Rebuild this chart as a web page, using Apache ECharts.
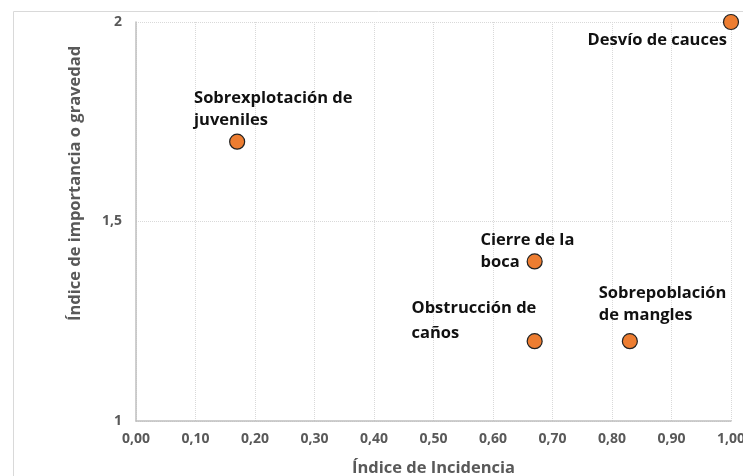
<!DOCTYPE html>
<html>
<head>
<meta charset="utf-8">
<script src="https://cdn.jsdelivr.net/npm/echarts@6/dist/echarts.min.js"></script>
<style>
html, body { margin: 0; padding: 0; background: #fff; }
#chart { width: 743px; height: 476px; }
</style>
</head>
<body>
<div id="chart"></div>
<script>
// datos
var riesgos = ['Sobrexplotación de\njuveniles', 'Desvío de cauces', 'Cierre de la\nboca', 'Obstrucción de\ncaños', 'Sobrepoblación\nde mangles'];
var incidencia = [0.17, 1.00, 0.67, 0.67, 0.83];
var gravedad = [1.7, 2.0, 1.4, 1.2, 1.2];
var xTicks = [0, 1, 0.1];   // min, max, intervalo
var yTicks = [1, 2, 0.5];

// posicion de cada etiqueta junto a su punto
var labelPos = [
    { position: [-35, -2], align: 'left', verticalAlign: 'bottom' },
    { position: [4, 26], align: 'right', verticalAlign: 'middle' },
    { position: [-46, -2], align: 'left', verticalAlign: 'middle' },
    { position: [-115, -12], align: 'left', verticalAlign: 'middle', lineHeight: 25 },
    { position: [-23, -29], align: 'left', verticalAlign: 'middle' }
];

var gris = '#595959';
var fuente = '"Open Sans", "Noto Sans", sans-serif';

var puntos = riesgos.map(function (n, i) {
    return {
        name: n,
        value: [incidencia[i], gravedad[i]],
        label: labelPos[i]
    };
});

var chart = echarts.init(document.getElementById('chart'));
chart.setOption({
    animation: false,
    textStyle: { fontFamily: fuente },
    graphic: [{
        type: 'rect',
        shape: { x: 13.5, y: 11.5, width: 800, height: 600 },
        style: { fill: 'none', stroke: '#d9d9d9', lineWidth: 1 },
        silent: true
    }],
    grid: { left: 136, right: 12, top: 22, bottom: 55, outerBoundsMode: 'none', containLabel: false },
    xAxis: {
        type: 'value',
        min: xTicks[0],
        max: xTicks[1],
        interval: xTicks[2],
        name: 'Índice de Incidencia',
        nameLocation: 'middle',
        nameGap: 39,
        nameTextStyle: { color: gris, fontSize: 16.5, fontWeight: 'bold', fontFamily: fuente },
        axisLine: { lineStyle: { color: '#bfbfbf', width: 1.5 } },
        axisTick: { show: false },
        axisLabel: {
            color: gris, fontSize: 14, fontWeight: 'bold', margin: 11,
            formatter: function (v) { return v.toFixed(2).replace('.', ','); }
        },
        splitLine: { show: true, lineStyle: { color: '#d9d9d9', type: 'dotted' } }
    },
    yAxis: {
        type: 'value',
        min: yTicks[0],
        max: yTicks[1],
        interval: yTicks[2],
        name: 'Índice de importancia o gravedad',
        nameLocation: 'middle',
        nameGap: 52,
        nameTextStyle: { color: gris, fontSize: 16.5, fontWeight: 'bold', fontFamily: fuente, padding: [0, 0, 0, 76] },
        axisLine: { show: true, lineStyle: { color: '#bfbfbf', width: 1.5 } },
        axisTick: { show: false },
        axisLabel: {
            color: gris, fontSize: 14, fontWeight: 'bold', margin: 14,
            formatter: function (v) { return String(v).replace('.', ','); }
        },
        splitLine: { show: true, lineStyle: { color: '#d9d9d9', type: 'dotted' } }
    },
    series: [{
        type: 'scatter',
        symbol: 'circle',
        symbolSize: 15,
        itemStyle: { color: '#ED7D31', borderColor: '#222', borderWidth: 1.2, opacity: 1 },
        label: {
            show: true,
            formatter: '{b}',
            color: '#111',
            fontSize: 16.5,
            fontWeight: 'bold',
            fontFamily: fuente,
            lineHeight: 22
        },
        data: puntos
    }]
});
window.addEventListener('resize', chart.resize);
</script>
</body>
</html>
